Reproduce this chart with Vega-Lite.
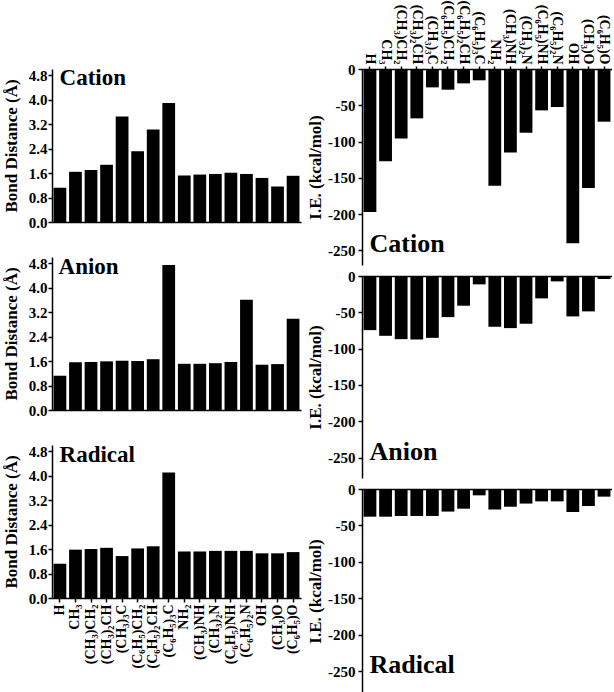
{
  "$schema": "https://vega.github.io/schema/vega-lite/v6.json",
  "background": "white",
  "padding": {"left": 2, "right": 0, "top": 0, "bottom": 0},
  "config": {
    "font": "Liberation Serif",
    "view": {"stroke": null},
    "axis": {
      "labelFont": "Liberation Serif", "labelFontWeight": "bold", "labelFontSize": 15, "labelColor": "black",
      "titleFont": "Liberation Serif", "titleFontWeight": "bold", "titleFontSize": 17, "titleColor": "black",
      "domainColor": "black", "tickColor": "black", "domainWidth": 1.5, "tickWidth": 1.5, "grid": false,
      "labelOverlap": false
    },
    "axisX": {"labelFontSize": 14},
    "bar": {"color": "black"},
    "text": {"font": "Liberation Serif", "fontWeight": "bold", "color": "black"}
  },
  "datasets": {
    "d": [
      {"s":"Cation","g":"H","bd":1.12,"ie":-197},
      {"s":"Cation","g":"CH₃","bd":1.64,"ie":-127},
      {"s":"Cation","g":"(CH₃)CH₂","bd":1.70,"ie":-95.6},
      {"s":"Cation","g":"(CH₃)₂CH","bd":1.87,"ie":-68},
      {"s":"Cation","g":"(CH₃)₃C","bd":3.45,"ie":-25.3},
      {"s":"Cation","g":"(C₆H₅)CH₂","bd":2.31,"ie":-28.5},
      {"s":"Cation","g":"(C₆H₅)₂CH","bd":3.02,"ie":-19.8},
      {"s":"Cation","g":"(C₆H₅)₃C","bd":3.89,"ie":-15.6},
      {"s":"Cation","g":"NH₂","bd":1.52,"ie":-161},
      {"s":"Cation","g":"(CH₃)NH","bd":1.55,"ie":-115},
      {"s":"Cation","g":"(CH₃)₂N","bd":1.57,"ie":-87.8},
      {"s":"Cation","g":"(C₆H₅)NH","bd":1.61,"ie":-57},
      {"s":"Cation","g":"(C₆H₅)₂N","bd":1.57,"ie":-52.4},
      {"s":"Cation","g":"OH","bd":1.44,"ie":-240},
      {"s":"Cation","g":"(CH₃)O","bd":1.16,"ie":-164},
      {"s":"Cation","g":"(C₆H₅)O","bd":1.51,"ie":-72.6},
      {"s":"Anion","g":"H","bd":1.12,"ie":-74.5},
      {"s":"Anion","g":"CH₃","bd":1.56,"ie":-82.3},
      {"s":"Anion","g":"(CH₃)CH₂","bd":1.57,"ie":-86.9},
      {"s":"Anion","g":"(CH₃)₂CH","bd":1.59,"ie":-87.4},
      {"s":"Anion","g":"(CH₃)₃C","bd":1.61,"ie":-85.1},
      {"s":"Anion","g":"(C₆H₅)CH₂","bd":1.60,"ie":-56.6},
      {"s":"Anion","g":"(C₆H₅)₂CH","bd":1.66,"ie":-40.9},
      {"s":"Anion","g":"(C₆H₅)₃C","bd":4.74,"ie":-11.5},
      {"s":"Anion","g":"NH₂","bd":1.51,"ie":-69.9},
      {"s":"Anion","g":"(CH₃)NH","bd":1.51,"ie":-71.7},
      {"s":"Anion","g":"(CH₃)₂N","bd":1.53,"ie":-65.7},
      {"s":"Anion","g":"(C₆H₅)NH","bd":1.57,"ie":-30.8},
      {"s":"Anion","g":"(C₆H₅)₂N","bd":3.60,"ie":-7.4},
      {"s":"Anion","g":"OH","bd":1.48,"ie":-55.6},
      {"s":"Anion","g":"(CH₃)O","bd":1.50,"ie":-48.7},
      {"s":"Anion","g":"(C₆H₅)O","bd":2.98,"ie":-4.1},
      {"s":"Radical","g":"H","bd":1.12,"ie":-38},
      {"s":"Radical","g":"CH₃","bd":1.58,"ie":-38},
      {"s":"Radical","g":"(CH₃)CH₂","bd":1.60,"ie":-37},
      {"s":"Radical","g":"(CH₃)₂CH","bd":1.64,"ie":-37},
      {"s":"Radical","g":"(CH₃)₃C","bd":1.37,"ie":-37},
      {"s":"Radical","g":"(C₆H₅)CH₂","bd":1.62,"ie":-31},
      {"s":"Radical","g":"(C₆H₅)₂CH","bd":1.69,"ie":-27},
      {"s":"Radical","g":"(C₆H₅)₃C","bd":4.10,"ie":-8.7},
      {"s":"Radical","g":"NH₂","bd":1.52,"ie":-28},
      {"s":"Radical","g":"(CH₃)NH","bd":1.52,"ie":-24.3},
      {"s":"Radical","g":"(CH₃)₂N","bd":1.54,"ie":-20},
      {"s":"Radical","g":"(C₆H₅)NH","bd":1.54,"ie":-17},
      {"s":"Radical","g":"(C₆H₅)₂N","bd":1.54,"ie":-17},
      {"s":"Radical","g":"OH","bd":1.46,"ie":-31.6},
      {"s":"Radical","g":"(CH₃)O","bd":1.46,"ie":-23.3},
      {"s":"Radical","g":"(C₆H₅)O","bd":1.50,"ie":-10.5}
    ]
  },
  "hconcat": [
    {
      "spacing": 26,
      "vconcat": [
        {
          "title": {"text": " ", "fontSize": 12, "offset": 50},
          "width": 249, "height": 153,
          "data": {"name": "d"},
          "transform": [{"filter": "datum.s == 'Cation'"}],
          "layer": [
            {"mark": {"type": "bar"},
             "encoding": {
               "x": {"field": "g", "type": "nominal", "scale": {"domain": ["H","CH₃","(CH₃)CH₂","(CH₃)₂CH","(CH₃)₃C","(C₆H₅)CH₂","(C₆H₅)₂CH","(C₆H₅)₃C","NH₂","(CH₃)NH","(CH₃)₂N","(C₆H₅)NH","(C₆H₅)₂N","OH","(CH₃)O","(C₆H₅)O"], "paddingInner": 0.18, "paddingOuter": 0.1}, "axis": {"labels": false, "ticks": false, "title": null}},
               "y": {"field": "bd", "type": "quantitative", "scale": {"domain": [0, 5], "nice": false}, "axis": {"values": [0,0.8,1.6,2.4,3.2,4.0,4.8], "tickCount": 20, "format": ".1f", "labelOverlap": false, "title": "Bond Distance (Å)", "tickSize": 4, "labelPadding": 1, "titlePadding": 8}}
             }},
            {"transform": [{"filter": "datum.g == 'H'"}],
             "mark": {"type": "text", "align": "left", "baseline": "alphabetic", "fontSize": 23, "dx": 6, "dy": 16},
             "encoding": {"x": {"field": "g", "type": "nominal", "bandPosition": 0}, "y": {"datum": 5}, "text": {"field": "s"}}}
          ]
        },
        {
          "width": 249, "height": 153,
          "data": {"name": "d"},
          "transform": [{"filter": "datum.s == 'Anion'"}],
          "layer": [
            {"mark": {"type": "bar"},
             "encoding": {
               "x": {"field": "g", "type": "nominal", "scale": {"domain": ["H","CH₃","(CH₃)CH₂","(CH₃)₂CH","(CH₃)₃C","(C₆H₅)CH₂","(C₆H₅)₂CH","(C₆H₅)₃C","NH₂","(CH₃)NH","(CH₃)₂N","(C₆H₅)NH","(C₆H₅)₂N","OH","(CH₃)O","(C₆H₅)O"], "paddingInner": 0.18, "paddingOuter": 0.1}, "axis": {"labels": false, "ticks": false, "title": null}},
               "y": {"field": "bd", "type": "quantitative", "scale": {"domain": [0, 5], "nice": false}, "axis": {"values": [0,0.8,1.6,2.4,3.2,4.0,4.8], "tickCount": 20, "format": ".1f", "labelOverlap": false, "title": "Bond Distance (Å)", "tickSize": 4, "labelPadding": 1, "titlePadding": 8}}
             }},
            {"transform": [{"filter": "datum.g == 'H'"}],
             "mark": {"type": "text", "align": "left", "baseline": "alphabetic", "fontSize": 23, "dx": 5, "dy": 17},
             "encoding": {"x": {"field": "g", "type": "nominal", "bandPosition": 0}, "y": {"datum": 5}, "text": {"field": "s"}}}
          ]
        },
        {
          "width": 249, "height": 153,
          "data": {"name": "d"},
          "transform": [{"filter": "datum.s == 'Radical'"}],
          "layer": [
            {"mark": {"type": "bar"},
             "encoding": {
               "x": {"field": "g", "type": "nominal", "scale": {"domain": ["H","CH₃","(CH₃)CH₂","(CH₃)₂CH","(CH₃)₃C","(C₆H₅)CH₂","(C₆H₅)₂CH","(C₆H₅)₃C","NH₂","(CH₃)NH","(CH₃)₂N","(C₆H₅)NH","(C₆H₅)₂N","OH","(CH₃)O","(C₆H₅)O"], "paddingInner": 0.18, "paddingOuter": 0.1}, "axis": {"labelAngle": -90, "labelOverlap": false, "title": null, "tickSize": 4, "labelPadding": 2}},
               "y": {"field": "bd", "type": "quantitative", "scale": {"domain": [0, 5], "nice": false}, "axis": {"values": [0,0.8,1.6,2.4,3.2,4.0,4.8], "tickCount": 20, "format": ".1f", "labelOverlap": false, "title": "Bond Distance (Å)", "tickSize": 4, "labelPadding": 1, "titlePadding": 8}}
             }},
            {"transform": [{"filter": "datum.g == 'H'"}],
             "mark": {"type": "text", "align": "left", "baseline": "alphabetic", "fontSize": 23, "dx": 6, "dy": 17},
             "encoding": {"x": {"field": "g", "type": "nominal", "bandPosition": 0}, "y": {"datum": 5}, "text": {"field": "s"}}}
          ]
        }
      ]
    },
    {
      "spacing": 4,
      "vconcat": [
        {
          "width": 250, "height": 196,
          "data": {"name": "d"},
          "transform": [{"filter": "datum.s == 'Cation'"}],
          "layer": [
            {"mark": {"type": "bar"},
             "encoding": {
               "x": {"field": "g", "type": "nominal", "scale": {"domain": ["H","CH₃","(CH₃)CH₂","(CH₃)₂CH","(CH₃)₃C","(C₆H₅)CH₂","(C₆H₅)₂CH","(C₆H₅)₃C","NH₂","(CH₃)NH","(CH₃)₂N","(C₆H₅)NH","(C₆H₅)₂N","OH","(CH₃)O","(C₆H₅)O"], "paddingInner": 0.18, "paddingOuter": 0.1}, "axis": {"orient": "top", "labelAngle": 90, "labelAlign": "right", "labelBaseline": "middle", "labelOverlap": false, "title": null, "tickSize": 3, "labelPadding": 2}},
               "y": {"field": "ie", "type": "quantitative", "scale": {"domain": [-270, 0], "nice": false}, "axis": {"values": [0,-50,-100,-150,-200,-250], "tickCount": 20, "labelExpr": "toString(datum.value)", "labelOverlap": false, "title": "I.E. (kcal/mol)", "tickSize": 4, "labelPadding": 3, "titlePadding": 3}}
             }},
            {"transform": [{"filter": "datum.g == 'H'"}],
             "mark": {"type": "text", "align": "left", "baseline": "alphabetic", "fontSize": 26, "dx": 6, "dy": 2},
             "encoding": {"x": {"field": "g", "type": "nominal", "bandPosition": 0}, "y": {"datum": -250}, "text": {"field": "s"}}}
          ]
        },
        {
          "width": 250, "height": 202,
          "data": {"name": "d"},
          "transform": [{"filter": "datum.s == 'Anion'"}],
          "layer": [
            {"mark": {"type": "bar"},
             "encoding": {
               "x": {"field": "g", "type": "nominal", "scale": {"domain": ["H","CH₃","(CH₃)CH₂","(CH₃)₂CH","(CH₃)₃C","(C₆H₅)CH₂","(C₆H₅)₂CH","(C₆H₅)₃C","NH₂","(CH₃)NH","(CH₃)₂N","(C₆H₅)NH","(C₆H₅)₂N","OH","(CH₃)O","(C₆H₅)O"], "paddingInner": 0.18, "paddingOuter": 0.1}, "axis": {"orient": "top", "labels": false, "ticks": false, "title": null}},
               "y": {"field": "ie", "type": "quantitative", "scale": {"domain": [-278, 0], "nice": false}, "axis": {"values": [0,-50,-100,-150,-200,-250], "tickCount": 20, "labelExpr": "toString(datum.value)", "labelOverlap": false, "title": "I.E. (kcal/mol)", "tickSize": 4, "labelPadding": 3, "titlePadding": 3}}
             }},
            {"transform": [{"filter": "datum.g == 'H'"}],
             "mark": {"type": "text", "align": "left", "baseline": "alphabetic", "fontSize": 26, "dx": 6, "dy": 2},
             "encoding": {"x": {"field": "g", "type": "nominal", "bandPosition": 0}, "y": {"datum": -250}, "text": {"field": "s"}}}
          ]
        },
        {
          "width": 250, "height": 204,
          "data": {"name": "d"},
          "transform": [{"filter": "datum.s == 'Radical'"}],
          "layer": [
            {"mark": {"type": "bar"},
             "encoding": {
               "x": {"field": "g", "type": "nominal", "scale": {"domain": ["H","CH₃","(CH₃)CH₂","(CH₃)₂CH","(CH₃)₃C","(C₆H₅)CH₂","(C₆H₅)₂CH","(C₆H₅)₃C","NH₂","(CH₃)NH","(CH₃)₂N","(C₆H₅)NH","(C₆H₅)₂N","OH","(CH₃)O","(C₆H₅)O"], "paddingInner": 0.18, "paddingOuter": 0.1}, "axis": {"orient": "top", "labels": false, "ticks": false, "title": null}},
               "y": {"field": "ie", "type": "quantitative", "scale": {"domain": [-280, 0], "nice": false}, "axis": {"values": [0,-50,-100,-150,-200,-250], "tickCount": 20, "labelExpr": "toString(datum.value)", "labelOverlap": false, "title": "I.E. (kcal/mol)", "tickSize": 4, "labelPadding": 3, "titlePadding": 3}}
             }},
            {"transform": [{"filter": "datum.g == 'H'"}],
             "mark": {"type": "text", "align": "left", "baseline": "alphabetic", "fontSize": 26, "dx": 6, "dy": 2},
             "encoding": {"x": {"field": "g", "type": "nominal", "bandPosition": 0}, "y": {"datum": -250}, "text": {"field": "s"}}}
          ]
        }
      ]
    }
  ],
  "spacing": 5
}
